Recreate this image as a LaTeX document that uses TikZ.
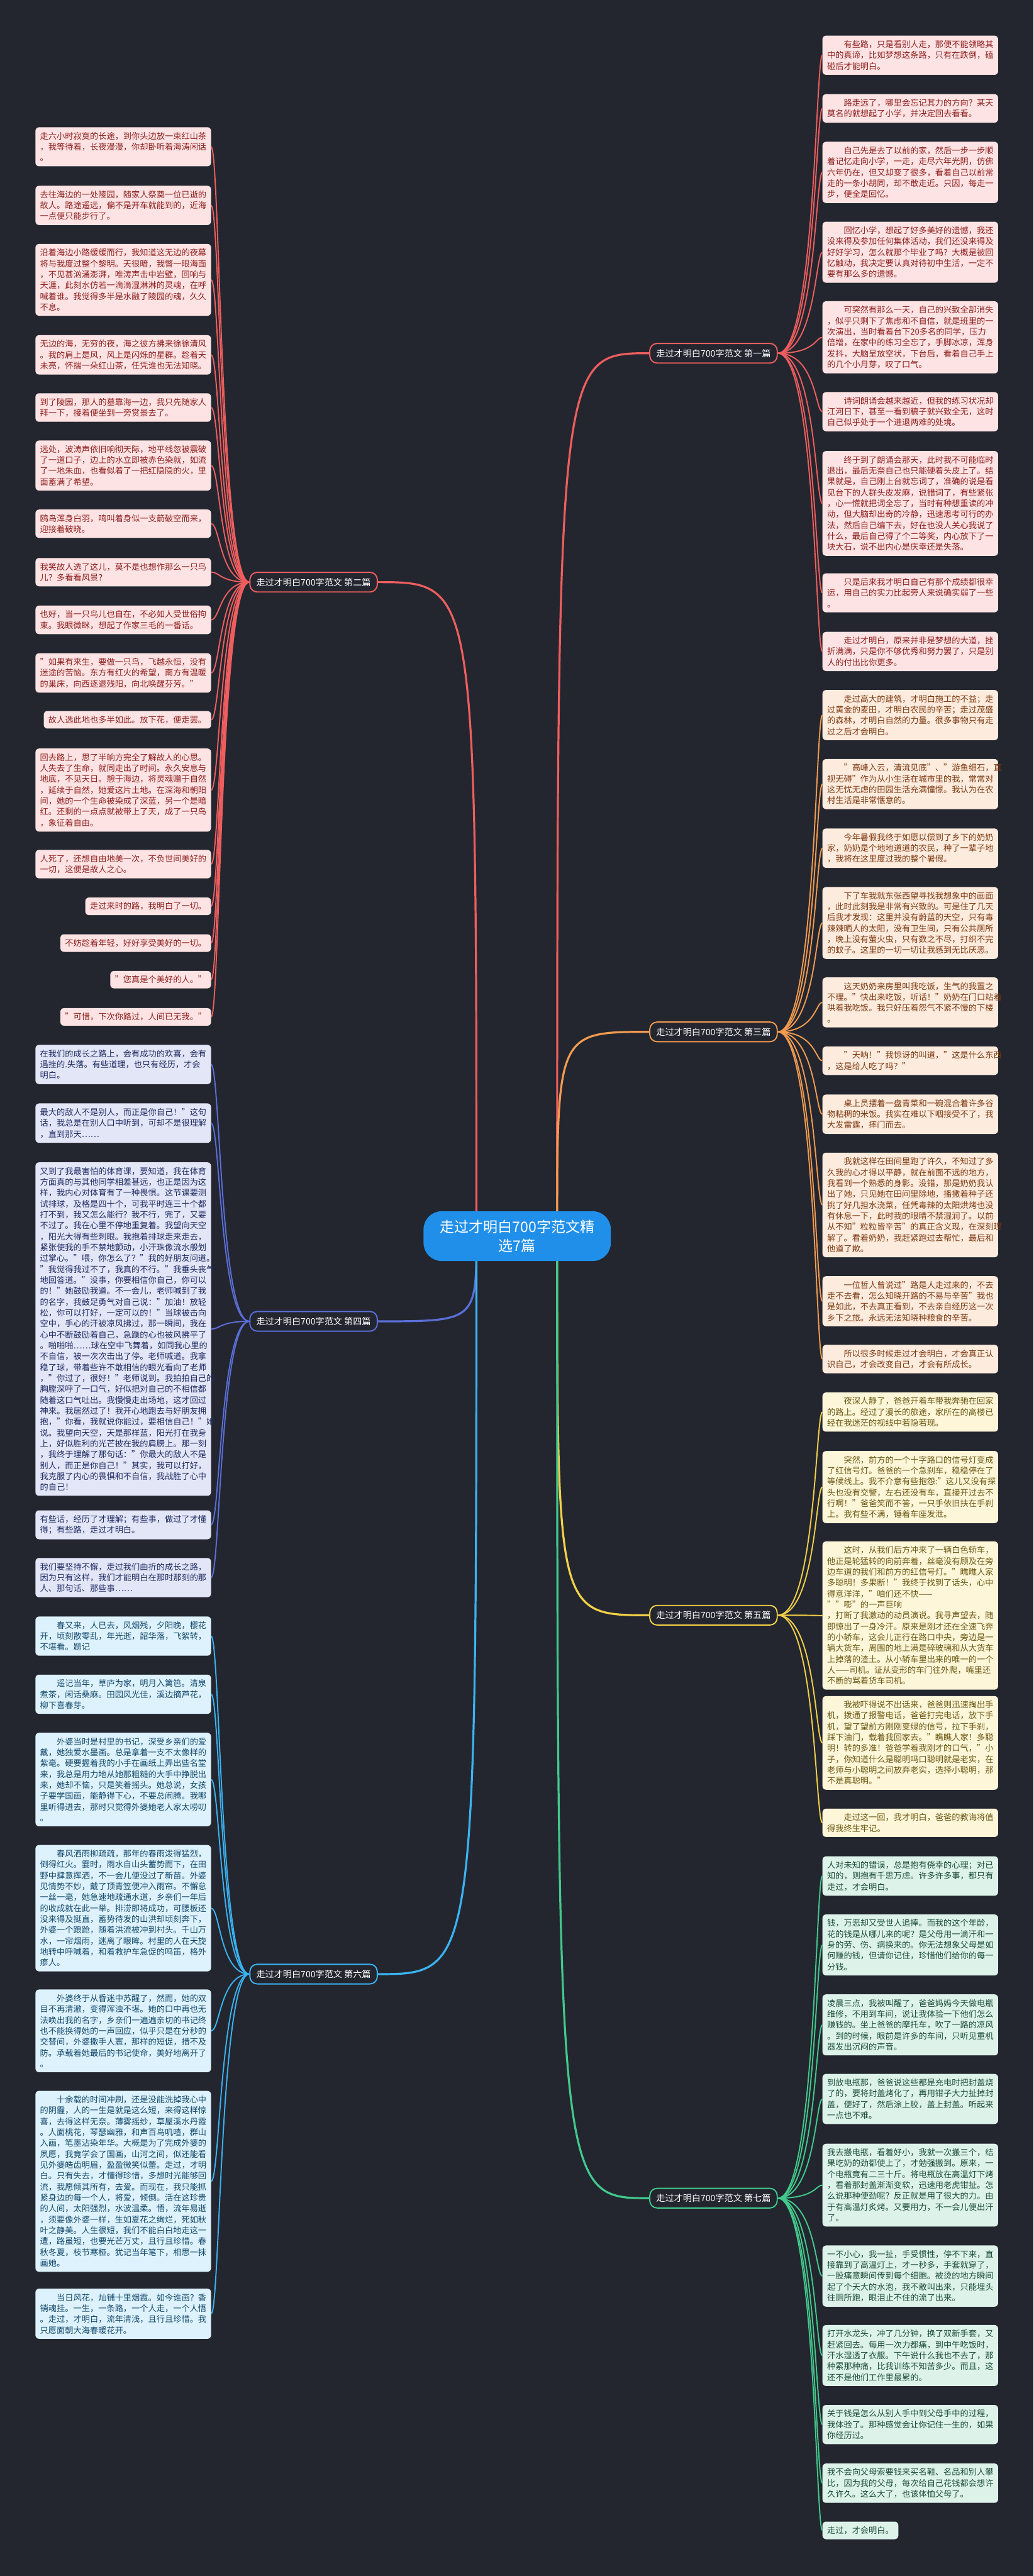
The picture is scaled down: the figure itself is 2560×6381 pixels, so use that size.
\documentclass[tikz,border=0pt]{standalone}
\usepackage{fontspec}
\setmainfont{Noto Sans CJK SC}
\usetikzlibrary{calc,backgrounds}

\definecolor{bgdark}{HTML}{23262F}
\definecolor{redline}{HTML}{EE5E5E}
\definecolor{redfill}{HTML}{FDE3E3}
\definecolor{redtext}{HTML}{8E1F1F}
\definecolor{orgline}{HTML}{F29B50}
\definecolor{orgfill}{HTML}{FDEBDD}
\definecolor{orgtext}{HTML}{7D3A12}
\definecolor{bluline}{HTML}{5B6FD8}
\definecolor{blufill}{HTML}{E3E6F7}
\definecolor{blutext}{HTML}{1F2B62}
\definecolor{yelline}{HTML}{F3D048}
\definecolor{yelfill}{HTML}{FDF6D8}
\definecolor{yeltext}{HTML}{6B5814}
\definecolor{skyline}{HTML}{3BB3F2}
\definecolor{skyfill}{HTML}{DDF2FC}
\definecolor{skytext}{HTML}{14496B}
\definecolor{grnline}{HTML}{42C98C}
\definecolor{grnfill}{HTML}{DDF3E9}
\definecolor{grntext}{HTML}{1C4D37}
\definecolor{hubblue}{HTML}{1F8FEA}

\newcommand{\indt}{\hspace*{2em}}

\begin{document}
\begin{tikzpicture}[x=1pt, y=-1pt,
    leaf/.style={rounded corners=9pt, inner xsep=11.5pt, inner ysep=12pt, align=left,
                 font=\fontsize{20.6pt}{27pt}\selectfont},
    wide/.style={leaf, text width=412pt},
    boxred/.style={fill=redfill, text=redtext},
    boxorg/.style={fill=orgfill, text=orgtext},
    boxblu/.style={fill=blufill, text=blutext},
    boxyel/.style={fill=yelfill, text=yeltext},
    boxsky/.style={fill=skyfill, text=skytext},
    boxgrn/.style={fill=grnfill, text=grntext},
    branch/.style={draw, line width=3pt, fill=bgdark, rounded corners=18pt, text=white,
                   inner xsep=16pt, inner ysep=14pt, font=\fontsize{22pt}{26pt}\selectfont},
    hub/.style={fill=hubblue, text=white, rounded corners=45pt, align=center,
                inner xsep=40pt, inner ysep=22pt, font=\fontsize{36pt}{46pt}\selectfont},
    link/.style={line width=3pt},
    trunk/.style={line width=5pt}
]
\useasboundingbox (0,0) rectangle (2560,6381);

% centre and branches
\node[hub] (ctr) at (1281,3062) {走过才明白700字范文精\\选7篇};
\node[branch, draw=redline, anchor=west] (b1) at (1608,875) {走过才明白700字范文 第一篇};
\node[branch, draw=redline, anchor=east] (b2) at (936,1442) {走过才明白700字范文 第二篇};
\node[branch, draw=orgline, anchor=west] (b3) at (1608,2556) {走过才明白700字范文 第三篇};
\node[branch, draw=bluline, anchor=east] (b4) at (936,3273) {走过才明白700字范文 第四篇};
\node[branch, draw=yelline, anchor=west] (b5) at (1608,4001) {走过才明白700字范文 第五篇};
\node[branch, draw=skyline, anchor=east] (b6) at (936,4890) {走过才明白700字范文 第六篇};
\node[branch, draw=grnline, anchor=west] (b7) at (1608,5445) {走过才明白700字范文 第七篇};
\coordinate (hubR) at (1380,3062);
\coordinate (hubL) at (1180,3062);
\coordinate (sL) at (545,0);
\coordinate (sR) at (2020,0);

% left column: second piece
\node[wide, boxred, anchor=north east] (l1) at (523,315) {走六小时寂寞的长途，到你头边放一束红山茶\\，我等待着，长夜漫漫，你却卧听着海涛闲话\\。};
\node[wide, boxred, anchor=north east] (l2) at (523,460) {去往海边的一处陵园，随家人祭奠一位已逝的\\故人。路途遥远，偏不是开车就能到的，近海\\一点便只能步行了。};
\node[wide, boxred, anchor=north east] (l3) at (523,604) {沿着海边小路缓缓而行，我知道这无边的夜幕\\将与我度过整个黎明。天很暗，我瞥一眼海面\\，不见甚汹涌澎湃，唯涛声击中岩壁，回响与\\天涯，此刻水仿若一滴滴湿淋淋的灵魂，在呼\\喊着谁。我觉得多半是水融了陵园的魂，久久\\不息。};
\node[wide, boxred, anchor=north east] (l4) at (523,830) {无边的海，无穷的夜，海之彼方拂来徐徐清风\\。我的肩上是风，风上是闪烁的星群。趁着天\\未亮，怀揣一朵红山茶，任凭谁也无法知晓。};
\node[wide, boxred, anchor=north east] (l5) at (523,974) {到了陵园，那人的墓靠海一边，我只先随家人\\拜一下，接着便坐到一旁赏景去了。};
\node[wide, boxred, anchor=north east] (l6) at (523,1091) {远处，波涛声依旧响彻天际，地平线忽被震破\\了一道口子，边上的水立即被赤色染就，如流\\了一地朱血，也看似着了一把红隐隐的火，里\\面蓄满了希望。};
\node[wide, boxred, anchor=north east] (l7) at (523,1262) {鸥鸟浑身白羽，鸣叫着身似一支箭破空而来，\\迎接着破晓。};
\node[wide, boxred, anchor=north east] (l8) at (523,1382) {我笑故人选了这儿，莫不是也想作那么一只鸟\\儿？多看看风景？};
\node[wide, boxred, anchor=north east] (l9) at (523,1500) {也好，当一只鸟儿也自在，不必如人受世俗拘\\束。我眼微眯，想起了作家三毛的一番话。};
\node[wide, boxred, anchor=north east] (l10) at (523,1618) {"如果有来生，要做一只鸟，飞越永恒，没有\\迷途的苦恼。东方有红火的希望，南方有温暖\\的巢床，向西逐退残阳，向北唤醒芬芳。"};
\node[leaf, boxred, anchor=north east] (l11) at (523,1761) {故人选此地也多半如此。放下花，便走罢。};
\node[wide, boxred, anchor=north east] (l12) at (523,1854) {回去路上，思了半晌方完全了解故人的心思。\\人失去了生命，就同走出了时间。永久安息与\\地底，不见天日。憩于海边，将灵魂赠于自然\\，延续于自然，她爱这片土地。在深海和朝阳\\间，她的一个生命被染成了深蓝，另一个是暗\\红。还剩的一点点就被带上了天，成了一只鸟\\，象征着自由。};
\node[wide, boxred, anchor=north east] (l13) at (523,2105) {人死了，还想自由地美一次，不负世间美好的\\一切，这便是故人之心。};
\node[leaf, boxred, anchor=north east] (l14) at (523,2223) {走过来时的路，我明白了一切。};
\node[leaf, boxred, anchor=north east] (l15) at (523,2314) {不妨趁着年轻，好好享受美好的一切。};
\node[leaf, boxred, anchor=north east] (l16) at (523,2405) {"您真是个美好的人。"};
\node[leaf, boxred, anchor=north east] (l17) at (523,2497) {"可惜，下次你路过，人间已无我。"};

% left column: fourth piece
\node[wide, boxblu, anchor=north east] (l18) at (523,2588) {在我们的成长之路上，会有成功的欢喜，会有\\遇挫的.失落。有些道理，也只有经历，才会\\明白。};
\node[wide, boxblu, anchor=north east] (l19) at (523,2733) {最大的敌人不是别人，而正是你自己！"这句\\话，我总是在别人口中听到，可却不是很理解\\，直到那天……};
\node[wide, boxblu, anchor=north east] (l20) at (523,2879) {又到了我最害怕的体育课，要知道，我在体育\\方面真的与其他同学相差甚远，也正是因为这\\样，我内心对体育有了一种畏惧。这节课要测\\试排球，及格是四十个，可我平时连三十个都\\打不到，我又怎么能行？我不行，完了，又要\\不过了。我在心里不停地重复着。我望向天空\\，阳光大得有些刺眼。我抱着排球走来走去，\\紧张使我的手不禁地颤动，小汗珠像流水般划\\过掌心。"喂，你怎么了？"我的好朋友问道。\\"我觉得我过不了，我真的不行。"我垂头丧气\\地回答道。"没事，你要相信你自己，你可以\\的！"她鼓励我道。不一会儿，老师喊到了我\\的名字，我鼓足勇气对自己说："加油！放轻\\松，你可以打好，一定可以的！"当球被击向\\空中，手心的汗被凉风拂过，那一瞬间，我在\\心中不断鼓励着自己，急躁的心也被风拂平了\\。啪啪啪……球在空中飞舞着，如同我心里的\\不自信，被一次次击出了停。老师喊道。我拿\\稳了球，带着些许不敢相信的眼光看向了老师\\，"你过了，很好！"老师说到。我拍拍自己的\\胸膛深呼了一口气，好似把对自己的不相信都\\随着这口气吐出。我慢慢走出场地，这才回过\\神来。我居然过了！我开心地跑去与好朋友拥\\抱，"你看，我就说你能过，要相信自己！"她\\说。我望向天空，天是那样蓝，阳光打在我身\\上，好似胜利的光芒披在我的肩膀上。那一刻\\，我终于理解了那句话："你最大的敌人不是\\别人，而正是你自己！"其实，我可以打好，\\我克服了内心的畏惧和不自信，我战胜了心中\\的自己！};
\node[wide, boxblu, anchor=north east] (l21) at (523,3741) {有些话，经历了才理解；有些事，做过了才懂\\得；有些路，走过才明白。};
\node[wide, boxblu, anchor=north east] (l22) at (523,3859) {我们要坚持不懈，走过我们曲折的成长之路，\\因为只有这样，我们才能明白在那时那刻的那\\人、那句话、那些事……};

% left column: sixth piece
\node[wide, boxsky, anchor=north east] (l23) at (523,4004) {\indt 春又来，人已去，风烟残，夕阳晚，樱花\\开，顷刻散零乱，年光逝，韶华落，飞絮转，\\不堪看。题记};
\node[wide, boxsky, anchor=north east] (l24) at (523,4148) {\indt 遥记当年，草庐为家，明月入篱笆。清泉\\煮茶，闲话桑麻。田园风光佳，溪边摘芦花，\\柳下喜春芽。};
\node[wide, boxsky, anchor=north east] (l25) at (523,4292) {\indt 外婆当时是村里的书记，深受乡亲们的爱\\戴，她独爱水墨画。总是拿着一支不太像样的\\紫毫。硬要握着我的小手在画纸上弄出些名堂\\来，我总是用力地从她那粗糙的大手中挣脱出\\来，她却不恼，只是笑着摇头。她总说，女孩\\子要学国画，能静得下心，不要总闹腾。我哪\\里听得进去，那时只觉得外婆她老人家太唠叨\\。};
\node[wide, boxsky, anchor=north east] (l26) at (523,4570) {\indt 春风洒雨柳疏疏，那年的春雨泼得猛烈，\\倒得红火。霎时，雨水自山头蓄势而下，在田\\野中肆意挥洒，不一会儿便没过了新苗。外婆\\见情势不妙，戴了顶青笠便冲入雨帘。不懈怠\\一丝一毫，她急速地疏通水道，乡亲们一年后\\的收成就在此一举。排涝即将成功，可腰板还\\没来得及挺直，蓄势待发的山洪却顷刻奔下，\\外婆一个踉跄，随着洪流被冲到村头。千山万\\水，一帘烟雨，迷离了眼眸。村里的人在天旋\\地转中呼喊着，和着救护车急促的鸣笛，格外\\瘆人。};
\node[wide, boxsky, anchor=north east] (l27) at (523,4928) {\indt 外婆终于从昏迷中苏醒了，然而，她的双\\目不再清澈，变得浑浊不堪。她的口中再也无\\法唤出我的名字，乡亲们一遍遍亲切的书记终\\也不能换得她的一声回应，似乎只是在分秒的\\交替间，外婆撒手人寰，那样的短促，措不及\\防。承载着她最后的书记使命，美好地离开了\\。};
\node[wide, boxsky, anchor=north east] (l28) at (523,5179) {\indt 十余载的时间冲刷，还是没能洗掉我心中\\的阴霾，人的一生是就是这么短，来得这样惊\\喜，去得这样无奈。薄雾摇纱，草屋溪水丹霞\\。人面桃花，琴瑟幽雅，和声百鸟叽喳，群山\\入画，笔墨沾染年华。大概是为了完成外婆的\\夙愿，我竟学会了国画，山河之间，似还能看\\见外婆皓齿明眉，盈盈微笑似蕾。走过，才明\\白。只有失去，才懂得珍惜，多想时光能够回\\流，我愿倾其所有，去爱。而现在，我只能抓\\紧身边的每一个人，将爱，倾倒。活在这珍贵\\的人间，太阳强烈，水波温柔。悟，流年易逝\\，须要像外婆一样，生如夏花之绚烂，死如秋\\叶之静美。人生很短，我们不能白白地走这一\\遭，路虽短，也要光芒万丈，且行且珍惜。春\\秋冬夏，枝节寒桠。犹记当年笔下，相思一抹\\画她。};
\node[wide, boxsky, anchor=north east] (l29) at (523,5669) {\indt 当日风花，灿铺十里烟霞。如今谁画？香\\销魂挂。一生，一条路，一个人走，一个人悟\\。走过，才明白，流年清浅，且行且珍惜。我\\只愿面朝大海春暖花开。};

% right column: first piece
\node[wide, boxred, anchor=north west] (r1) at (2037,88) {\indt 有些路，只是看别人走，那便不能领略其\\中的真谛，比如梦想这条路，只有在跌倒，磕\\碰后才能明白。};
\node[wide, boxred, anchor=north west] (r2) at (2037,233) {\indt 路走远了，哪里会忘记其力的方向？某天\\莫名的就想起了小学，并决定回去看看。};
\node[wide, boxred, anchor=north west] (r3) at (2037,351) {\indt 自己先是去了以前的家，然后一步一步顺\\着记忆走向小学，一走，走尽六年光阴，仿佛\\六年仍在，但又却变了很多，看着自己以前常\\走的一条小胡同，却不敢走近。只因，每走一\\步，便全是回忆。};
\node[wide, boxred, anchor=north west] (r4) at (2037,549) {\indt 回忆小学，想起了好多美好的遗憾，我还\\没来得及参加任何集体活动，我们还没来得及\\好好学习，怎么就那个毕业了吗？大概是被回\\忆触动，我决定要认真对待初中生活，一定不\\要有那么多的遗憾。};
\node[wide, boxred, anchor=north west] (r5) at (2037,746) {\indt 可突然有那么一天，自己的兴致全部消失\\，似乎只剩下了焦虑和不自信，就是班里的一\\次演出，当时看着台下20多名的同学，压力\\倍增，在家中的练习全忘了，手脚冰凉，浑身\\发抖，大脑呈放空状，下台后，看着自己手上\\的几个小月芽，叹了口气。};
\node[wide, boxred, anchor=north west] (r6) at (2037,971) {\indt 诗词朗诵会越来越近，但我的练习状况却\\江河日下，甚至一看到稿子就兴致全无，这时\\自己似乎处于一个进退两难的处境。};
\node[wide, boxred, anchor=north west] (r7) at (2037,1117) {\indt 终于到了朗诵会那天，此时我不可能临时\\退出，最后无奈自己也只能硬着头皮上了。结\\果就是，自己刚上台就忘词了，准确的说是看\\见台下的人群头皮发麻，说错词了，有些紧张\\，心一慌就把词全忘了，当时有种想重读的冲\\动，但大脑却出奇的冷静，迅速思考可行的办\\法，然后自己编下去，好在也没人关心我说了\\什么，最后自己得了个二等奖，内心放下了一\\块大石，说不出内心是庆幸还是失落。};
\node[wide, boxred, anchor=north west] (r8) at (2037,1420) {\indt 只是后来我才明白自己有那个成绩都很幸\\运，用自己的实力比起旁人来说确实弱了一些\\。};
\node[wide, boxred, anchor=north west] (r9) at (2037,1565) {\indt 走过才明白，原来并非是梦想的大道，挫\\折满满，只是你不够优秀和努力罢了，只是别\\人的付出比你更多。};

% right column: third piece
\node[wide, boxorg, anchor=north west] (r10) at (2037,1709) {\indt 走过高大的建筑，才明白施工的不益；走\\过黄金的麦田，才明白农民的辛苦；走过茂盛\\的森林，才明白自然的力量。很多事物只有走\\过之后才会明白。};
\node[wide, boxorg, anchor=north west] (r11) at (2037,1880) {\indt "高峰入云，清流见底"、"游鱼细石，直\\视无碍"作为从小生活在城市里的我，常常对\\这无忧无虑的田园生活充满憧憬。我认为在农\\村生活是非常惬意的。};
\node[wide, boxorg, anchor=north west] (r12) at (2037,2052) {\indt 今年暑假我终于如愿以偿到了乡下的奶奶\\家，奶奶是个地地道道的农民，种了一辈子地\\，我将在这里度过我的整个暑假。};
\node[wide, boxorg, anchor=north west] (r13) at (2037,2197) {\indt 下了车我就东张西望寻找我想象中的画面\\，此时此刻我是非常有兴致的。可是住了几天\\后我才发现：这里并没有蔚蓝的天空，只有毒\\辣辣晒人的太阳，没有卫生间，只有公共厕所\\，晚上没有萤火虫，只有数之不尽，打织不完\\的蚊子。这里的一切一切让我感到无比厌恶。};
\node[wide, boxorg, anchor=north west] (r14) at (2037,2421) {\indt 这天奶奶来房里叫我吃饭，生气的我置之\\不理。"快出来吃饭，听话！"奶奶在门口站着\\哄着我吃饭。我只好压着怨气不紧不慢的下楼\\。};
\node[wide, boxorg, anchor=north west] (r15) at (2037,2592) {\indt "天呐！"我惊讶的叫道，"这是什么东西\\，这是给人吃了吗？"};
\node[wide, boxorg, anchor=north west] (r16) at (2037,2711) {\indt 桌上员摆着一盘青菜和一碗混合着许多谷\\物粘稠的米饭。我实在难以下咽接受不了，我\\大发雷霆，摔门而去。};
\node[wide, boxorg, anchor=north west] (r17) at (2037,2855) {\indt 我就这样在田间里跑了许久，不知过了多\\久我的心才得以平静，就在前面不远的地方，\\我看到一个熟悉的身影。没错，那是奶奶我认\\出了她，只见她在田间里除地，播撒着种子还\\挑了好几担水浇菜，任凭毒辣的太阳烘烤也没\\有休息一下，此时我的眼睛不禁湿润了。以前\\从不知"粒粒皆辛苦"的真正含义现，在深刻理\\解了。看着奶奶，我赶紧跑过去帮忙，最后和\\他道了歉。};
\node[wide, boxorg, anchor=north west] (r18) at (2037,3161) {\indt 一位哲人曾说过"路是人走过来的，不去\\走不去看，怎么知晓开路的不易与辛苦"我也\\是如此，不去真正看到，不去亲自经历这一次\\乡下之旅。永远无法知晓种粮食的辛苦。};
\node[wide, boxorg, anchor=north west] (r19) at (2037,3331) {\indt 所以很多时候走过才会明白，才会真正认\\识自己，才会改变自己，才会有所成长。};

% right column: fifth piece
\node[wide, boxyel, anchor=north west] (r20) at (2037,3449) {\indt 夜深人静了，爸爸开着车带我奔驰在回家\\的路上。经过了漫长的旅途，家所在的高楼已\\经在我迷茫的视线中若隐若现。};
\node[wide, boxyel, anchor=north west] (r21) at (2037,3594) {\indt 突然，前方的一个十字路口的信号灯变成\\了红信号灯。爸爸的一个急刹车，稳稳停在了\\等候线上。我不介意有些抱怨:"这儿又没有探\\头也没有交警，左右还没有车，直接开过去不\\行啊！"爸爸笑而不答，一只手依旧扶在手刹\\上。我有些不满，锤着车座发泄。};
\node[wide, boxyel, anchor=north west] (r22) at (2037,3818) {\indt 这时，从我们后方冲来了一辆白色轿车，\\他正是轮猛转的向前奔着，丝毫没有顾及在旁\\边车道的我们和前方的红信号灯。"瞧瞧人家\\多聪明！多果断！"我终于找到了话头，心中\\得意洋洋，"咱们还不快——""嘭"的一声巨响\\，打断了我激动的动员演说。我寻声望去，随\\即惊出了一身冷汗。原来是刚才还在全速飞奔\\的小轿车，这会儿正行在路口中央，旁边是一\\辆大货车，周围的地上满是碎玻璃和从大货车\\上掉落的渣土。从小轿车里出来的唯一的一个\\人——司机。证从变形的车门往外爬，嘴里还\\不断的骂着货车司机。};
\node[wide, boxyel, anchor=north west] (r23) at (2037,4201) {\indt 我被吓得说不出话来，爸爸则迅速掏出手\\机，拨通了报警电话，爸爸打完电话，放下手\\机，望了望前方刚刚变绿的信号，拉下手刹，\\踩下油门，载着我回家去。"瞧瞧人家！多聪\\明！转的多准！爸爸学着我刚才的口气，"小\\子，你知道什么是聪明吗口聪明就是老实，在\\老师与小聪明之间放弃老实，选择小聪明，那\\不是真聪明。"};
\node[wide, boxyel, anchor=north west] (r24) at (2037,4480) {\indt 走过这一回，我才明白，爸爸的教诲将值\\得我终生牢记。};

% right column: seventh piece
\node[wide, boxgrn, anchor=north west] (r25) at (2037,4598) {人对未知的错误，总是抱有侥幸的心理；对已\\知的，则抱有千思万虑。许多许多事，都只有\\走过，才会明白。};
\node[wide, boxgrn, anchor=north west] (r26) at (2037,4742) {钱，万恶却又受世人追捧。而我的这个年龄，\\花的钱是从哪儿来的呢？是父母用一滴汗和一\\身的劳、伤、病换来的。你无法想象父母是如\\何赚的钱，但请你记住，珍惜他们给你的每一\\分钱。};
\node[wide, boxgrn, anchor=north west] (r27) at (2037,4940) {凌晨三点，我被叫醒了，爸爸妈妈今天做电瓶\\维修，不用到车间，说让我体验一下他们怎么\\赚钱的。坐上爸爸的摩托车，吹了一路的凉风\\。到的时候，眼前是许多的车间，只听见重机\\器发出沉闷的声音。};
\node[wide, boxgrn, anchor=north west] (r28) at (2037,5137) {到放电瓶那，爸爸说这些都是充电时把封盖烧\\了的，要将封盖烤化了，再用钳子大力扯掉封\\盖，便好了，然后涂上胶，盖上封盖。听起来\\一点也不难。};
\node[wide, boxgrn, anchor=north west] (r29) at (2037,5310) {我去搬电瓶，看着好小，我就一次搬三个，结\\果吃奶的劲都使上了，才勉强搬到。原来，一\\个电瓶竟有二三十斤。将电瓶放在高温灯下烤\\，看着那封盖渐渐变软，迅速用老虎钳扯。怎\\么说那种使劲呢？反正就是用了很大的力。由\\于有高温灯炙烤。又要用力，不一会儿便出汗\\了。};
\node[wide, boxgrn, anchor=north west] (r30) at (2037,5562) {一不小心，我一扯，手受惯性，停不下来，直\\接靠到了高温灯上，才一秒多，手套就穿了，\\一股痛意瞬间传到每个细胞。被烫的地方瞬间\\起了个天大的水泡，我不敢叫出来，只能埋头\\往厕所跑，眼泪止不住的流了出来。};
\node[wide, boxgrn, anchor=north west] (r31) at (2037,5759) {打开水龙头，冲了几分钟，换了双新手套，又\\赶紧回去。每用一次力都痛，到中午吃饭时，\\汗水湿透了衣服。下午说什么我也不去了，那\\种累那种痛，比我训练不知苦多少。而且，这\\还不是他们工作里最累的。};
\node[wide, boxgrn, anchor=north west] (r32) at (2037,5957) {关于钱是怎么从别人手中到父母手中的过程，\\我体验了。那种感觉会让你记住一生的，如果\\你经历过。};
\node[wide, boxgrn, anchor=north west] (r33) at (2037,6102) {我不会向父母索要钱来买名鞋、名品和别人攀\\比，因为我的父母，每次给自己花钱都会想许\\久许久。这么大了，也该体恤父母了。};
\node[leaf, boxgrn, anchor=north west] (r34) at (2037,6246) {走过，才会明白。};

% leaf links
\foreach \i in {1,...,17}
    \draw[link, redline] (l\i.east) .. controls (l\i.east -| sL) and (b2.west -| sL) .. (b2.west);
\foreach \i in {18,...,22}
    \draw[link, bluline] (l\i.east) .. controls (l\i.east -| sL) and (b4.west -| sL) .. (b4.west);
\foreach \i in {23,...,29}
    \draw[link, skyline] (l\i.east) .. controls (l\i.east -| sL) and (b6.west -| sL) .. (b6.west);
\foreach \i in {1,...,9}
    \draw[link, redline] (r\i.west) .. controls (r\i.west -| sR) and (b1.east -| sR) .. (b1.east);
\foreach \i in {10,...,19}
    \draw[link, orgline] (r\i.west) .. controls (r\i.west -| sR) and (b3.east -| sR) .. (b3.east);
\foreach \i in {20,...,24}
    \draw[link, yelline] (r\i.west) .. controls (r\i.west -| sR) and (b5.east -| sR) .. (b5.east);
\foreach \i in {25,...,34}
    \draw[link, grnline] (r\i.west) .. controls (r\i.west -| sR) and (b7.east -| sR) .. (b7.east);

% background and trunks
\begin{pgfonlayer}{background}
    \fill[bgdark] (0,0) rectangle (2560,6381);
    \draw[trunk, redline] (hubR) .. controls (hubR |- b1.west) .. (b1.west);
    \draw[trunk, orgline] (hubR) .. controls (hubR |- b3.west) .. (b3.west);
    \draw[trunk, yelline] (hubR) .. controls (hubR |- b5.west) .. (b5.west);
    \draw[trunk, grnline] (hubR) .. controls (hubR |- b7.west) .. (b7.west);
    \draw[trunk, redline] (hubL) .. controls (hubL |- b2.east) .. (b2.east);
    \draw[trunk, bluline] (hubL) .. controls (hubL |- b4.east) .. (b4.east);
    \draw[trunk, skyline] (hubL) .. controls (hubL |- b6.east) .. (b6.east);
\end{pgfonlayer}
\end{tikzpicture}
\end{document}
